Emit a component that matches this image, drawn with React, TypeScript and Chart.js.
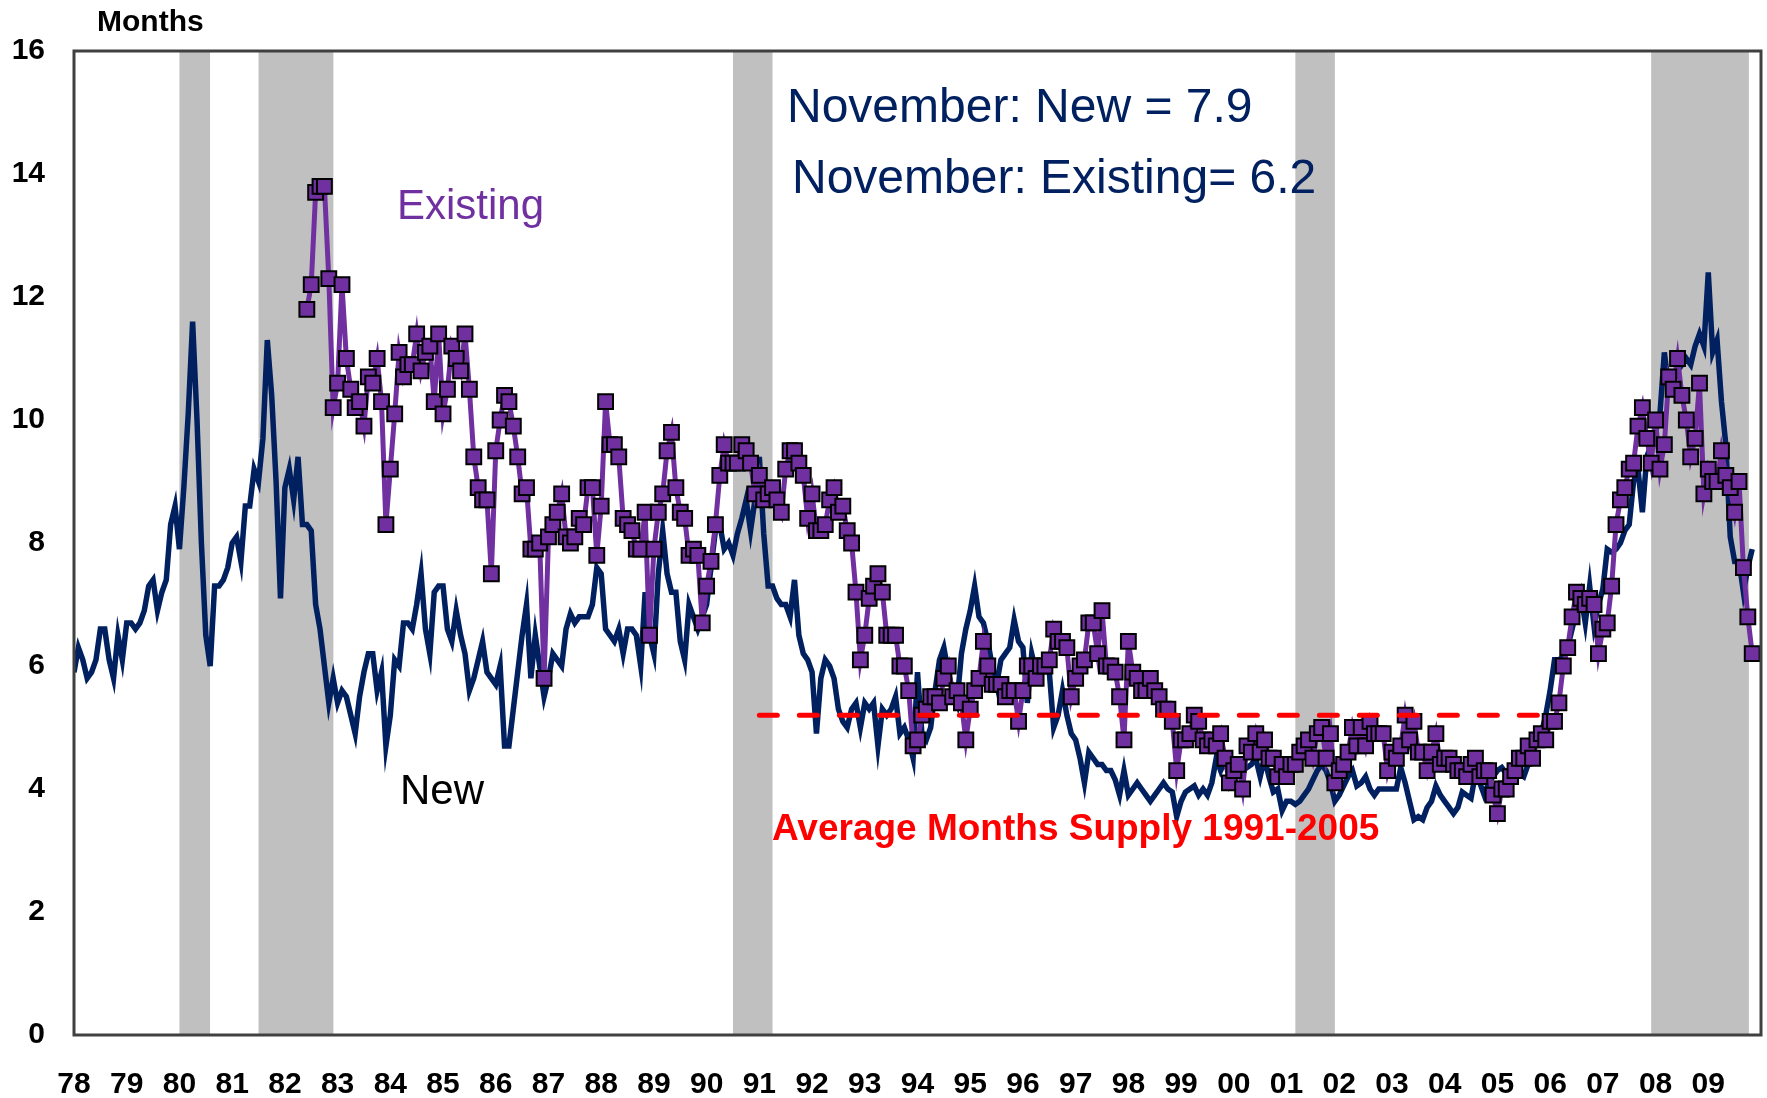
import React, { useEffect, useRef } from "react";
import { Chart, registerables } from "chart.js";

Chart.register(...registerables);

// ---------------- data ----------------
const START_YEAR = 1978;
const END_YEAR = 2010;
const yearLabels = [
  "78", "79", "80", "81", "82", "83", "84", "85", "86", "87", "88", "89", "90", "91", "92", "93",
  "94", "95", "96", "97", "98", "99", "00", "01", "02", "03", "04", "05", "06", "07", "08", "09",
];
const yTicks = [0, 2, 4, 6, 8, 10, 12, 14, 16];

// New homes: months' supply, monthly from Jan 1978 (month index 0)
const newStartMonth = 0;
const newSupply = [
  5.9, 6.3, 6.1, 5.8, 5.9, 6.1, 6.6, 6.6, 6.1, 5.8, 6.5, 6.1, // 1978
  6.7, 6.7, 6.6, 6.7, 6.9, 7.3, 7.4, 6.9, 7.2, 7.4, 8.3, 8.6, // 1979
  7.9, 8.9, 10.1, 11.6, 10.0, 8.0, 6.5, 6.0, 7.3, 7.3, 7.4, 7.6, // 1980
  8.0, 8.1, 7.7, 8.6, 8.6, 9.2, 9.0, 9.7, 11.3, 10.4, 9.0, 7.1, // 1981
  8.9, 9.2, 8.7, 9.4, 8.3, 8.3, 8.2, 7.0, 6.6, 6.0, 5.4, 5.8, // 1982
  5.4, 5.6, 5.5, 5.2, 4.9, 5.5, 5.9, 6.2, 6.2, 5.6, 5.9, 4.7, // 1983
  5.2, 6.1, 6.0, 6.7, 6.7, 6.6, 7.0, 7.5, 6.6, 6.2, 7.2, 7.3, // 1984
  7.3, 6.6, 6.4, 6.9, 6.5, 6.2, 5.6, 5.8, 6.1, 6.4, 5.9, 5.8, // 1985
  5.7, 6.0, 4.7, 4.7, 5.3, 5.9, 6.5, 7.0, 5.8, 6.5, 6.0, 5.5, // 1986
  5.8, 6.2, 6.1, 6.0, 6.6, 6.85, 6.7, 6.8, 6.8, 6.8, 7.0, 7.6, // 1987
  7.5, 6.6, 6.5, 6.4, 6.6, 6.2, 6.6, 6.6, 6.5, 6.0, 7.2, 6.5, // 1988
  6.2, 7.5, 8.2, 7.5, 7.2, 7.2, 6.4, 6.1, 7.0, 6.8, 6.6, 6.8, // 1989
  7.0, 7.6, 8.2, 8.3, 7.9, 8.0, 7.8, 8.15, 8.4, 8.7, 8.2, 8.7, // 1990
  9.4, 8.15, 7.3, 7.3, 7.1, 7.0, 7.0, 6.8, 7.4, 6.5, 6.2, 6.1, // 1991
  5.9, 4.9, 5.8, 6.1, 6.0, 5.8, 5.3, 5.1, 5.0, 5.3, 5.4, 5.0, // 1992
  5.4, 5.3, 5.4, 4.7, 5.3, 5.2, 5.3, 5.5, 4.9, 5.0, 4.8, 4.5, // 1993
  5.9, 4.9, 4.8, 5.0, 5.6, 6.1, 6.3, 5.9, 5.6, 5.4, 6.2, 6.6, // 1994
  6.9, 7.3, 6.8, 6.7, 6.4, 6.0, 5.7, 6.1, 6.2, 6.3, 6.75, 6.4, // 1995
  6.3, 5.4, 6.2, 5.9, 6.0, 6.0, 5.9, 5.0, 5.2, 5.6, 5.2, 4.9, // 1996
  4.8, 4.5, 4.1, 4.6, 4.5, 4.4, 4.4, 4.3, 4.3, 4.15, 3.9, 4.3, // 1997
  3.9, 4.0, 4.1, 4.0, 3.9, 3.8, 3.9, 4.0, 4.1, 4.0, 3.95, 3.55, // 1998
  3.8, 3.95, 4.0, 4.05, 3.9, 4.0, 3.9, 4.1, 4.5, 4.3, 4.45, 4.25, // 1999
  4.3, 4.4, 4.3, 4.35, 4.4, 4.5, 4.2, 4.5, 4.2, 3.95, 4.0, 3.65, // 2000
  3.8, 3.8, 3.75, 3.8, 3.9, 4.0, 4.15, 4.3, 4.4, 4.3, 4.1, 3.8, // 2001
  3.9, 4.05, 4.2, 4.3, 4.05, 4.1, 4.2, 4.0, 3.9, 4.0, 4.0, 4.0, // 2002
  4.0, 4.0, 4.35, 4.1, 3.8, 3.5, 3.55, 3.5, 3.7, 3.8, 4.05, 3.9, // 2003
  3.8, 3.7, 3.6, 3.7, 3.95, 3.9, 3.85, 4.25, 4.1, 3.9, 4.1, 4.2, // 2004
  4.3, 4.35, 4.25, 4.35, 4.3, 4.25, 4.2, 4.4, 4.6, 4.8, 4.9, 5.2, // 2005
  5.6, 6.1, 6.1, 6.15, 6.3, 6.6, 6.9, 7.15, 6.7, 7.3, 6.65, 7.0, // 2006
  7.25, 7.9, 7.85, 7.9, 8.0, 8.2, 8.3, 9.0, 9.2, 8.5, 9.4, 9.6, // 2007
  9.8, 10.1, 11.1, 10.5, 10.6, 10.8, 10.9, 11.0, 10.9, 11.2, 11.4, 11.2, // 2008
  12.4, 11.1, 11.3, 10.3, 9.6, 8.1, 7.7, 7.7, 7.2, 7.6, 7.9, // 2009 (Jan-Nov)
];

// Existing homes: months' supply, monthly from Jun 1982 (month index 53)
const existingStartMonth = 53;
const existingSupply = [
  11.8, 12.2, 13.7, 13.8, 13.8, 12.3, 10.2, // 1982 Jun-Dec
  10.6, 12.2, 11.0, 10.5, 10.2, 10.3, 9.9, 10.7, 10.6, 11.0, 10.3, 8.3, // 1983
  9.2, 10.1, 11.1, 10.7, 10.9, 10.9, 11.4, 10.8, 11.1, 11.2, 10.3, 11.4, // 1984
  10.1, 10.5, 11.2, 11.0, 10.8, 11.4, 10.5, 9.4, 8.9, 8.7, 8.7, 7.5, // 1985
  9.5, 10.0, 10.4, 10.3, 9.9, 9.4, 8.8, 8.9, 7.9, 7.9, 8.0, 5.8, // 1986
  8.1, 8.3, 8.5, 8.8, 8.1, 8.0, 8.1, 8.4, 8.3, 8.9, 8.9, 7.8, // 1987
  8.6, 10.3, 9.6, 9.6, 9.4, 8.4, 8.3, 8.2, 7.9, 7.9, 8.5, 6.5, // 1988
  7.9, 8.5, 8.8, 9.5, 9.8, 8.9, 8.5, 8.4, 7.8, 7.9, 7.8, 6.7, // 1989
  7.3, 7.7, 8.3, 9.1, 9.6, 9.3, 9.3, 9.3, 9.6, 9.5, 9.3, 8.8, // 1990
  9.1, 8.7, 8.8, 8.9, 8.7, 8.5, 9.2, 9.5, 9.5, 9.3, 9.1, 8.4, // 1991
  8.8, 8.2, 8.2, 8.3, 8.7, 8.9, 8.5, 8.6, 8.2, 8.0, 7.2, 6.1, // 1992
  6.5, 7.1, 7.3, 7.5, 7.2, 6.5, 6.5, 6.5, 6.0, 6.0, 5.6, 4.7, // 1993
  4.8, 5.2, 5.3, 5.5, 5.5, 5.4, 5.8, 6.0, 5.5, 5.6, 5.4, 4.8, // 1994
  5.3, 5.6, 5.8, 6.4, 6.0, 5.7, 5.7, 5.7, 5.5, 5.6, 5.6, 5.1, // 1995
  5.6, 6.0, 6.0, 5.8, 6.0, 6.0, 6.1, 6.6, 6.4, 6.4, 6.3, 5.5, // 1996
  5.8, 6.0, 6.1, 6.7, 6.7, 6.2, 6.9, 6.0, 6.0, 5.9, 5.5, 4.8, // 1997
  6.4, 5.9, 5.8, 5.6, 5.6, 5.8, 5.6, 5.5, 5.3, 5.3, 5.1, 4.3, // 1998
  4.8, 4.8, 4.9, 5.2, 5.1, 4.8, 4.7, 4.8, 4.7, 4.9, 4.5, 4.1, // 1999
  4.3, 4.4, 4.0, 4.7, 4.6, 4.9, 4.6, 4.8, 4.5, 4.5, 4.2, 4.4, // 2000
  4.2, 4.4, 4.4, 4.6, 4.7, 4.8, 4.5, 4.9, 5.0, 4.5, 4.9, 4.1, // 2001
  4.3, 4.4, 4.6, 5.0, 4.7, 5.0, 4.7, 5.1, 4.9, 4.9, 4.9, 4.3, // 2002
  4.6, 4.5, 4.7, 5.2, 4.8, 5.1, 4.6, 4.6, 4.3, 4.6, 4.9, 4.4, // 2003
  4.5, 4.5, 4.4, 4.3, 4.3, 4.2, 4.4, 4.5, 4.2, 4.3, 4.3, 3.9, // 2004
  3.6, 4.0, 4.0, 4.2, 4.3, 4.5, 4.5, 4.7, 4.5, 4.8, 4.9, 4.8, // 2005
  5.1, 5.1, 5.4, 6.0, 6.3, 6.8, 7.2, 7.1, 7.0, 7.1, 7.0, 6.2, // 2006
  6.6, 6.7, 7.3, 8.3, 8.7, 8.9, 9.2, 9.3, 9.9, 10.2, 9.7, 9.3, // 2007
  10.0, 9.2, 9.6, 10.7, 10.5, 11.0, 10.4, 10.0, 9.4, 9.7, 10.6, 8.8, // 2008
  9.2, 9.0, 9.0, 9.5, 9.1, 8.9, 8.5, 9.0, 7.6, 6.8, 6.2, // 2009 (Jan-Nov)
];

// Recession periods (decimal years: start, end)
const recessionStarts = [1980.0, 1981.5, 1990.5, 2001.167, 2007.917];
const recessionEnds = [1980.58, 1982.92, 1991.25, 2001.917, 2009.77];

// Average months' supply 1991-2005
const avgSupplyPeriod = [1991, 2006];
const avgSupplyValue = 5.2;

const annotationNew = "November: New = 7.9";
const annotationExisting = "November: Existing= 6.2";

// -------------- helpers --------------
const toPoints = (values: number[], startMonth: number) =>
  values.map((v, i) => ({ x: START_YEAR + (startMonth + i) / 12, y: v }));

const FONT = '"Liberation Sans", Arial, Helvetica, sans-serif';

const recessionPlugin = {
  id: "recessions",
  beforeDatasetsDraw(chart: any) {
    const { ctx, chartArea, scales } = chart;
    ctx.save();
    ctx.fillStyle = "#C0C0C0";
    recessionStarts.forEach((s, i) => {
      const x1 = scales.x.getPixelForValue(s);
      const x2 = scales.x.getPixelForValue(recessionEnds[i]);
      ctx.fillRect(x1, chartArea.top, x2 - x1, chartArea.bottom - chartArea.top);
    });
    ctx.restore();
  },
};

const overlayPlugin = {
  id: "overlay",
  afterDraw(chart: any) {
    const { ctx, chartArea } = chart;
    ctx.save();
    // frame
    ctx.strokeStyle = "#404040";
    ctx.lineWidth = 3;
    ctx.strokeRect(chartArea.left, chartArea.top, chartArea.right - chartArea.left, chartArea.bottom - chartArea.top);

    ctx.textAlign = "left";
    ctx.textBaseline = "middle";
    // axis unit
    ctx.fillStyle = "#000000";
    ctx.font = `bold 30px ${FONT}`;
    ctx.fillText("Months", 97, 23);

    // annotations
    ctx.fillStyle = "#002060";
    ctx.font = `48px ${FONT}`;
    ctx.fillText(annotationNew, 787, 109);
    ctx.fillText(annotationExisting, 792, 180);

    ctx.fillStyle = "#7030A0";
    ctx.font = `42px ${FONT}`;
    ctx.fillText("Existing", 397, 207);

    ctx.fillStyle = "#000000";
    ctx.fillText("New", 400, 792);

    ctx.fillStyle = "#FF0000";
    ctx.font = `bold 37px ${FONT}`;
    ctx.fillText("Average Months Supply 1991-2005", 772, 830);
    ctx.restore();
  },
};

export default function App() {
  const canvasRef = useRef<HTMLCanvasElement | null>(null);

  useEffect(() => {
    if (!canvasRef.current) return;
    const chart = new Chart(canvasRef.current, {
      type: "line",
      data: {
        datasets: [
          {
            label: "Existing",
            data: toPoints(existingSupply, existingStartMonth),
            borderColor: "#7030A0",
            borderWidth: 5,
            pointStyle: "rect",
            pointRadius: 10.5,
            pointBackgroundColor: "#7030A0",
            pointBorderColor: "#000000",
            pointBorderWidth: 2,
            tension: 0,
            order: 1,
          },
          {
            label: "New",
            data: toPoints(newSupply, newStartMonth),
            borderColor: "#002060",
            borderWidth: 5.5,
            pointRadius: 0,
            tension: 0,
            order: 2,
          },
          {
            label: "Average 1991-2005",
            data: avgSupplyPeriod.map((x) => ({ x, y: avgSupplyValue })),
            borderColor: "#FF0000",
            borderWidth: 5,
            borderDash: [18, 22],
            borderCapStyle: "round",
            pointRadius: 0,
            order: 0,
          },
        ],
      },
      options: {
        responsive: false,
        animation: false,
        devicePixelRatio: 1,
        layout: { autoPadding: false, padding: { top: 51, right: 6, left: 0, bottom: 0 } },
        plugins: { legend: { display: false }, tooltip: { enabled: false } },
        scales: {
          x: {
            type: "linear",
            min: START_YEAR,
            max: END_YEAR,
            grid: { display: false, drawTicks: true, tickLength: 32 },
            border: { display: false },
            afterFit: (scale: any) => {
              scale.height = 63;
              scale.paddingLeft = 0;
              scale.paddingRight = 0;
            },
            ticks: {
              stepSize: 1,
              autoSkip: false,
              maxRotation: 0,
              padding: 0,
              color: "#000000",
              font: { family: FONT, size: 30, weight: "bold" },
              callback: (v: any) => {
                const i = Math.round(Number(v) - START_YEAR);
                return yearLabels[i] ?? "";
              },
            },
          },
          y: {
            min: 0,
            max: 16,
            grid: { display: false, drawTicks: false },
            border: { display: false },
            afterFit: (scale: any) => {
              scale.width = 74;
            },
            afterBuildTicks: (scale: any) => {
              scale.ticks = yTicks.map((value) => ({ value }));
            },
            ticks: {
              padding: 29,
              color: "#000000",
              font: { family: FONT, size: 30, weight: "bold" },
            },
          },
        },
      },
      plugins: [recessionPlugin, overlayPlugin],
    } as any);
    return () => chart.destroy();
  }, []);

  return (
    <div style={{ position: "absolute", left: 0, top: 0, width: 1767, height: 1098, background: "#ffffff" }}>
      <canvas ref={canvasRef} width={1767} height={1098} style={{ display: "block" }} />
    </div>
  );
}
